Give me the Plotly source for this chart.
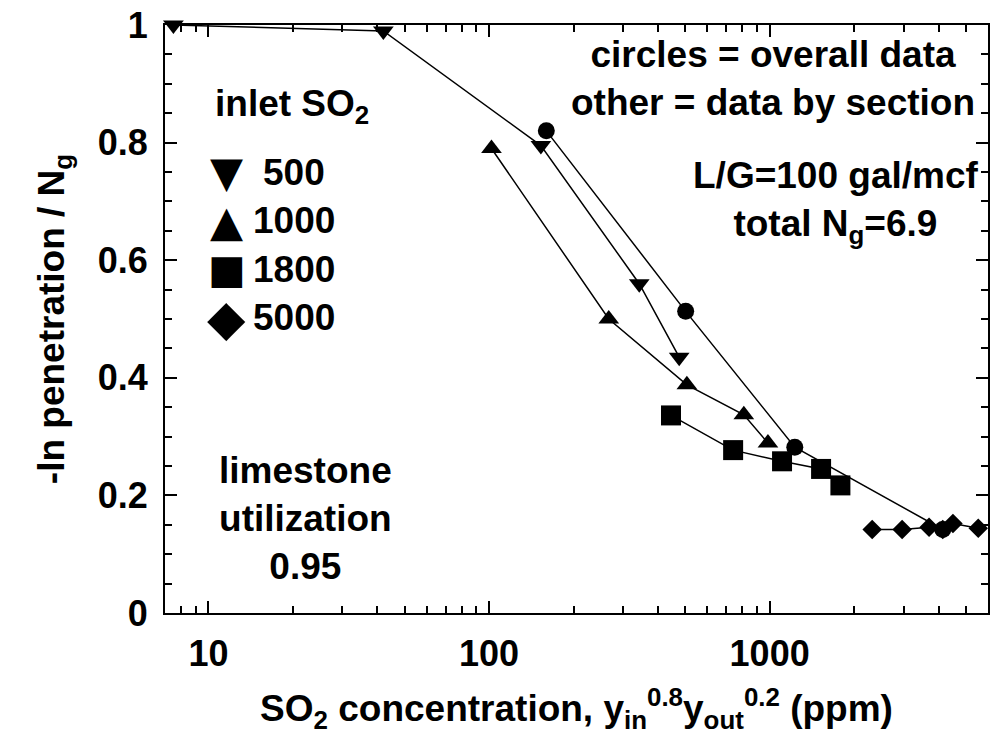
import plotly.graph_objects as go
import numpy as np

# Section data grouped by inlet SO2 (ppm)
x_500 = [7.5, 42, 153, 343, 476]
y_500 = [1.0, 0.99, 0.795, 0.56, 0.435]

x_1000 = [102, 267, 507, 809, 986]
y_1000 = [0.79, 0.50, 0.388, 0.337, 0.289]

x_1800 = [445, 741, 1107, 1525, 1787]
y_1800 = [0.336, 0.277, 0.258, 0.245, 0.217]

x_5000 = [2320, 2965, 3700, 4140, 4500, 5540]
y_5000 = [0.142, 0.142, 0.146, 0.142, 0.152, 0.144]

# Overall data (circles)
x_all = [160, 502, 1229, 4140]
y_all = [0.820, 0.513, 0.282, 0.142]

legend_values = ["500", "1000", "1800", "5000"]
legend_glyphs = ["\u25BC", "\u25B2", "\u25A0", "\u25C6"]
glyph_sizes = [43, 43, 40, 50]

W, H = 991, 749
L, R, T, B = 165, 1, 25, 136
FONT = "Liberation Sans, Arial, Helvetica, sans-serif"
BIG = 37

fig = go.Figure()

series = [
    (x_500, y_500, "triangle-down", 18),
    (x_1000, y_1000, "triangle-up", 18),
    (x_1800, y_1800, "square", 20),
    (x_5000, y_5000, "diamond", 15),
    (x_all, y_all, "circle", 17),
]
for xs, ys, sym, sz in series:
    fig.add_trace(go.Scatter(
        x=xs, y=ys, mode="lines+markers",
        line=dict(color="black", width=1.5),
        marker=dict(symbol=sym, size=sz, color="black", line=dict(width=0)),
        cliponaxis=False, showlegend=False,
    ))

def px_to_paper(px, py):
    pw = W - L - R
    ph = H - T - B
    return (px - L) / pw, (H - B - py) / ph

annots = []

def add_text(text, px, py, xanchor="center", align="center", size=BIG, family=FONT):
    x, y = px_to_paper(px, py)
    annots.append(dict(
        text=text, x=x, y=y, xref="paper", yref="paper",
        xanchor=xanchor, yanchor="middle", align=align, showarrow=False,
        font=dict(family=family, size=size, color="black", weight="bold"),
    ))

add_text("inlet SO<sub>2</sub>", 213, 106, xanchor="left", align="left")
for i, (g, v, gs) in enumerate(zip(legend_glyphs, legend_values, glyph_sizes)):
    yc = 172 + i * 48.5
    add_text(g, 227, yc, size=gs, family="DejaVu Sans")
    add_text(v, 294, yc)
add_text("circles = overall data<br>other = data by section", 774, 78)
add_text("L/G=100 gal/mcf<br>total N<sub>g</sub>=6.9", 837, 202)
add_text("limestone<br>utilization<br>0.95", 306, 518)

axis_common = dict(
    showline=True, linecolor="black", linewidth=2,
    mirror="ticks", ticks="inside", tickcolor="black", tickwidth=1.5,
    ticklen=12, showgrid=False, zeroline=False,
    tickfont=dict(family=FONT, size=36, color="black", weight="bold"),
)

fig.update_xaxes(
    type="log", range=[np.log10(7), np.log10(6000)],
    tickvals=[10, 100, 1000], ticktext=["10", "100", "1000"],
    minor=dict(ticks="inside", ticklen=7, tickwidth=1.5, tickcolor="black",
               tickvals=[d * 10 ** e for e in range(0, 4) for d in range(2, 10)]),
    title=dict(text="SO<sub>2</sub> concentration, y<sub>in</sub><sup>0.8</sup>y<sub>out</sub><sup>0.2</sup> (ppm)",
               font=dict(family=FONT, size=BIG, color="black", weight="bold"), standoff=22),
    ticklabelstandoff=8,
    **axis_common,
)
fig.update_yaxes(
    range=[0, 1], tickvals=[0, 0.2, 0.4, 0.6, 0.8, 1], ticktext=["0", "0.2", "0.4", "0.6", "0.8", "1"],
    minor=dict(ticks="inside", ticklen=7, tickwidth=1.5, tickcolor="black", dtick=0.05),
    title=dict(text="-ln penetration / N<sub>g</sub>",
               font=dict(family=FONT, size=BIG, color="black", weight="bold"), standoff=22),
    ticklabelstandoff=8,
    **axis_common,
)

fig.update_layout(
    width=W, height=H,
    margin=dict(l=L, r=R, t=T, b=B, pad=0),
    plot_bgcolor="white", paper_bgcolor="white",
    font=dict(family=FONT, size=36, color="black", weight="bold"),
    annotations=annots,
    showlegend=False,
)

fig.write_html("out.html")
